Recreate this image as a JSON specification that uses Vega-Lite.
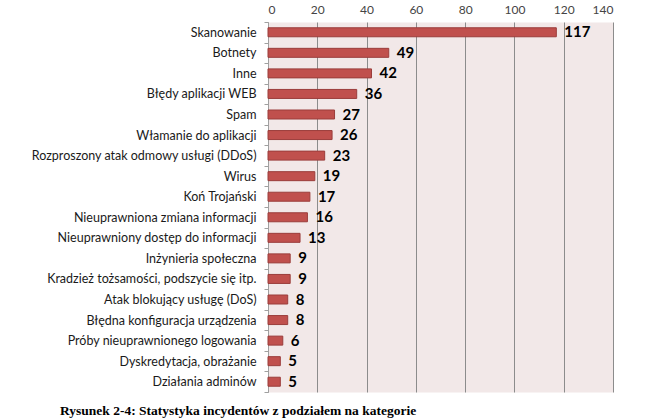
{
  "$schema": "https://vega.github.io/schema/vega-lite/v6.json",
  "autosize": "none",
  "width": 345,
  "height": 370,
  "padding": {"left": 268, "top": 22, "right": 42, "bottom": 27},
  "background": "white",
  "view": {"fill": "#F2E8E8", "stroke": "transparent"},
  "config": {
    "font": "Lato"
  },
  "title": {
    "text": "Rysunek 2-4: Statystyka incydentów z podziałem na kategorie",
    "orient": "bottom",
    "anchor": "start",
    "frame": "group",
    "dx": -208,
    "offset": 11,
    "font": "Liberation Serif",
    "fontSize": 13.5,
    "fontWeight": "bold",
    "color": "#000000"
  },
  "data": {
    "values": [
      {"kategoria": "Skanowanie", "liczba": 117},
      {"kategoria": "Botnety", "liczba": 49},
      {"kategoria": "Inne", "liczba": 42},
      {"kategoria": "Błędy aplikacji WEB", "liczba": 36},
      {"kategoria": "Spam", "liczba": 27},
      {"kategoria": "Włamanie do aplikacji", "liczba": 26},
      {"kategoria": "Rozproszony atak odmowy usługi (DDoS)", "liczba": 23},
      {"kategoria": "Wirus", "liczba": 19},
      {"kategoria": "Koń Trojański", "liczba": 17},
      {"kategoria": "Nieuprawniona zmiana informacji", "liczba": 16},
      {"kategoria": "Nieuprawniony dostęp do informacji", "liczba": 13},
      {"kategoria": "Inżynieria społeczna", "liczba": 9},
      {"kategoria": "Kradzież tożsamości, podszycie się itp.", "liczba": 9},
      {"kategoria": "Atak blokujący usługę (DoS)", "liczba": 8},
      {"kategoria": "Błędna konfiguracja urządzenia", "liczba": 8},
      {"kategoria": "Próby nieuprawnionego logowania", "liczba": 6},
      {"kategoria": "Dyskredytacja, obrażanie", "liczba": 5},
      {"kategoria": "Działania adminów", "liczba": 5}
    ]
  },
  "encoding": {
    "y": {
      "field": "kategoria",
      "type": "nominal",
      "sort": null,
      "title": null,
      "scale": {"paddingInner": 0, "paddingOuter": 0},
      "axis": {
        "tickBand": "extent",
        "domainColor": "#A0A0A0",
        "tickColor": "#A0A0A0",
        "tickSize": 4,
        "labelFontSize": 12.5,
        "labelColor": "#1A1A1A",
        "labelPadding": 8,
        "labelLimit": 300
      }
    },
    "x": {
      "field": "liczba",
      "type": "quantitative",
      "title": null,
      "scale": {"domain": [0, 140], "nice": false},
      "axis": {
        "orient": "top",
        "values": [0, 20, 40, 60, 80, 100, 120, 140],
        "domain": false,
        "ticks": false,
        "gridColor": "#8C8C8C",
        "gridOpacity": 1,
        "labelFontSize": 12,
        "labelColor": "#444444",
        "labelPadding": 6
      }
    }
  },
  "layer": [
    {
      "mark": {"type": "bar", "size": 9, "color": "#C0504D", "stroke": "#9B3D3B", "strokeWidth": 1}
    },
    {
      "mark": {"type": "text", "align": "left", "dx": 8, "fontSize": 15, "fontWeight": "bold", "color": "#000000"},
      "encoding": {"text": {"field": "liczba", "type": "quantitative"}}
    }
  ]
}
